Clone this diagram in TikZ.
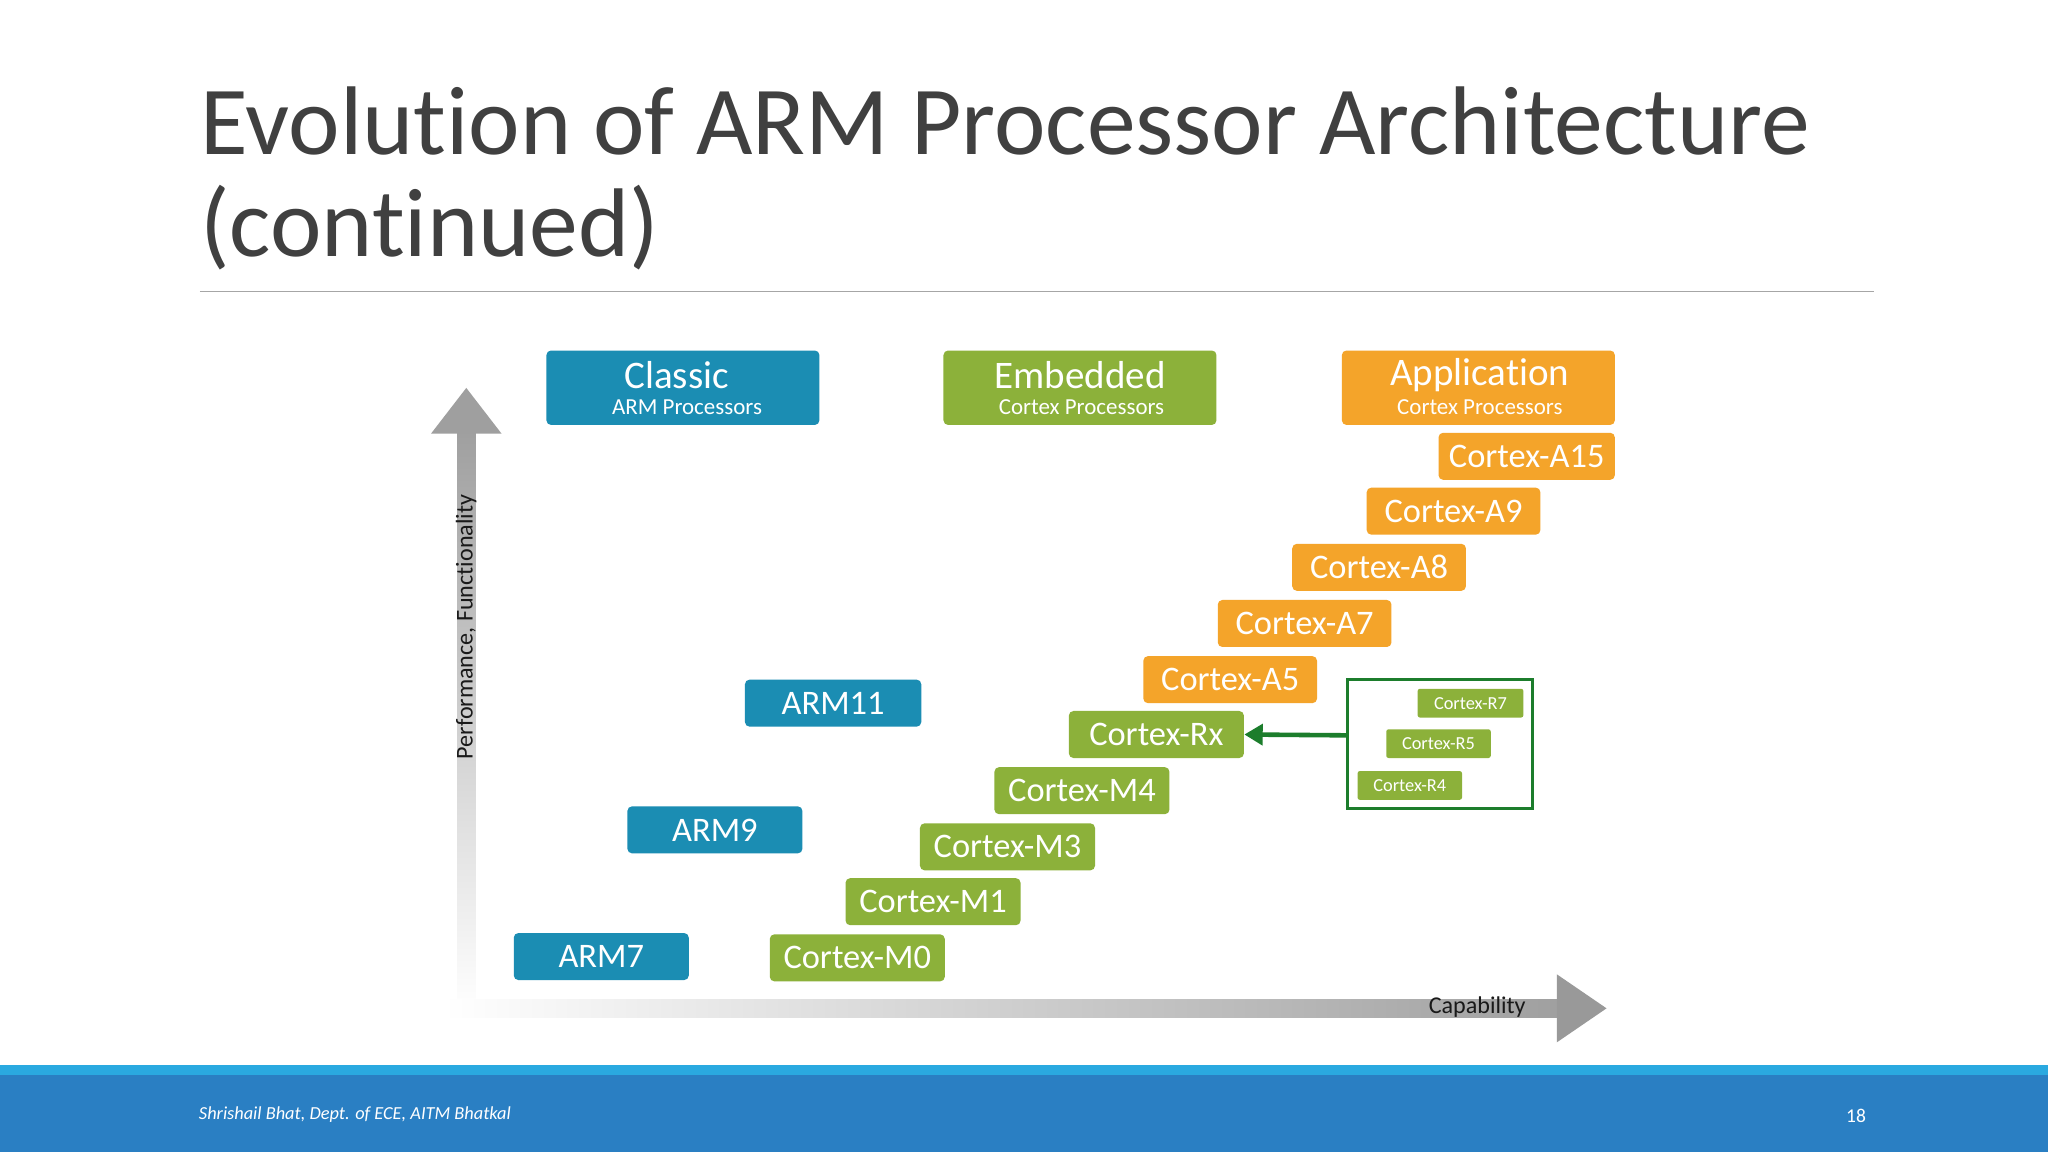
\documentclass[tikz,border=0pt]{standalone}
\usepackage{fontspec}
\setmainfont{Carlito}[Ligatures={NoCommon}]
\usetikzlibrary{arrows.meta,shadows}
\definecolor{teal}{HTML}{1B8DB3}
\definecolor{grn}{HTML}{8CB13A}
\definecolor{org}{HTML}{F4A42A}
\definecolor{dg}{HTML}{1C7D2C}
\definecolor{foot}{HTML}{2A7FC3}
\definecolor{footl}{HTML}{2AA9E0}
\definecolor{ttl}{HTML}{404040}
\tikzset{
 bx/.style={rounded corners=2pt,text=white,font=\fontsize{15}{15}\selectfont,inner sep=0,align=center},
 hd/.style={bx,font=\fontsize{17}{17}\selectfont},
 sm/.style={rounded corners=1pt,text=white,font=\fontsize{8}{8}\selectfont,inner sep=0,fill=grn}
}
\newcommand{\bxx}[7]{\node[bx,fill=#6,minimum width=#3*0.02cm,minimum height=#4*0.02cm,anchor=north west] (#7) at (#1,#2) {#5};}
\begin{document}
\begin{tikzpicture}[x=0.02cm,y=-0.02cm]
\useasboundingbox (0,0) rectangle (1568,882);
\fill[white] (0,0) rectangle (1568,882);
% title
\node[anchor=base west,inner sep=0,text=ttl,font=\fontsize{42.5}{42.5}\selectfont] (t1) at (153,118) {Evolution of ARM Processor Architecture};
\node[anchor=base west,inner sep=0,text=ttl,font=\fontsize{42.5}{42.5}\selectfont] (t2) at (153,196) {(continued)};
\draw[gray!70,line width=0.6pt] (153,223) -- (1435,223);
% footer
\fill[footl] (0,815) rectangle (1568,823);
\fill[foot] (0,823) rectangle (1568,882);
\node[anchor=west,text=white,font=\fontsize{8}{8}\selectfont\itshape,inner sep=0] (ft) at (152,853) {Shrishail Bhat, Dept. of ECE, AITM Bhatkal};
\node[text=white,font=\fontsize{8.5}{8.5}\selectfont,inner sep=0] (pg) at (1421,854) {18};
% axes
\shade[top color=gray!75,bottom color=white] (350,330) rectangle (364,775);
\fill[gray!75] (330,332) -- (357,297) -- (384,332) -- cycle;
\shade[left color=white,right color=gray!75] (340,765) rectangle (1196,779);
\fill[gray!80] (1192,746) -- (1230,772) -- (1192,798) -- cycle;
\node[rotate=90,text=gray!20!black,font=\fontsize{10.5}{10.5}\selectfont] (yl) at (357,480) {Performance, Functionality};
\node[text=gray!20!black,font=\fontsize{10.5}{10.5}\selectfont] (xl) at (1131,771) {Capability};
% headers
\node[hd,fill=teal,minimum width=209*0.02cm,minimum height=57*0.02cm,anchor=north west] (hc) at (418,268) {};
\node[text=white,font=\fontsize{17}{17}\selectfont,inner sep=0] at (518,287) {Classic};
\node[text=white,font=\fontsize{10}{10}\selectfont,inner sep=0] at (526,312) {ARM Processors};
\node[hd,fill=grn,minimum width=209*0.02cm,minimum height=57*0.02cm,anchor=north west] (he) at (722,268) {};
\node[text=white,font=\fontsize{17}{17}\selectfont,inner sep=0] at (827,287) {Embedded};
\node[text=white,font=\fontsize{10}{10}\selectfont,inner sep=0] at (828,312) {Cortex Processors};
\node[hd,fill=org,minimum width=209*0.02cm,minimum height=57*0.02cm,anchor=north west] (ha) at (1027,268) {};
\node[text=white,font=\fontsize{17}{17}\selectfont,inner sep=0] at (1133,287) {Application};
\node[text=white,font=\fontsize{10}{10}\selectfont,inner sep=0] at (1133,312) {Cortex Processors};
% boxes
\bxx{570}{520}{135}{36}{ARM11}{teal}{arm11}
\bxx{480}{617}{134}{36}{ARM9}{teal}{arm9}
\bxx{393}{714}{134}{36}{ARM7}{teal}{arm7}
\bxx{589}{715}{134}{36}{Cortex-M0}{grn}{m0}
\bxx{647}{672}{134}{36}{Cortex-M1}{grn}{m1}
\bxx{704}{630}{134}{36}{Cortex-M3}{grn}{m3}
\bxx{761}{587}{134}{36}{Cortex-M4}{grn}{m4}
\bxx{818}{544}{134}{36}{Cortex-Rx}{grn}{rx}
\bxx{875}{502}{133}{36}{Cortex-A5}{org}{a5}
\bxx{932}{459}{133}{36}{Cortex-A7}{org}{a7}
\bxx{989}{416}{133}{36}{Cortex-A8}{org}{a8}
\bxx{1046}{373}{133}{36}{Cortex-A9}{org}{a9}
\bxx{1101}{331}{135}{36}{Cortex-A15}{org}{a15}
% R box
\draw[dg,line width=1.3pt] (1032,520) rectangle (1173,619);
\coordinate (rb) at (1032,563);
\node[sm,minimum width=81*0.02cm,minimum height=22*0.02cm,anchor=north west] (r7) at (1085,527) {Cortex-R7};
\node[sm,minimum width=80*0.02cm,minimum height=22*0.02cm,anchor=north west] (r5) at (1061,558) {Cortex-R5};
\node[sm,minimum width=80*0.02cm,minimum height=22*0.02cm,anchor=north west] (r4) at (1039,590) {Cortex-R4};
\draw[dg,line width=2pt,-{Triangle[length=8pt,width=9pt]}] (rb) -- (rx.east);
\end{tikzpicture}
\end{document}
